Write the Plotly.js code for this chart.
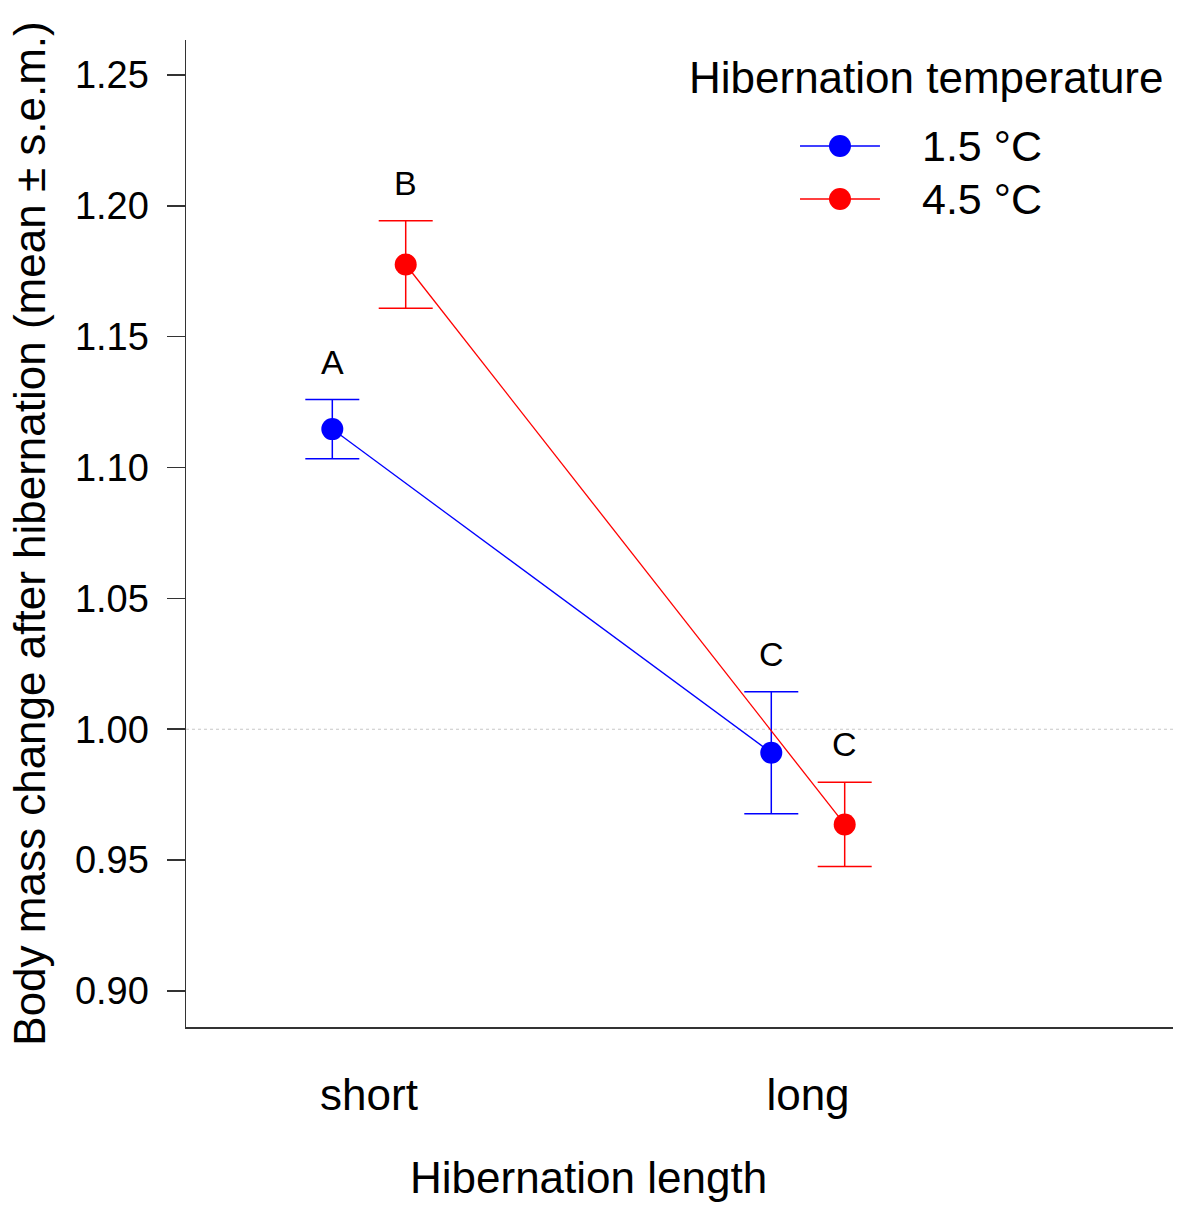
<!DOCTYPE html>
<html><head><meta charset="utf-8">
<script src="https://cdn.plot.ly/plotly-3.0.1.min.js"></script>
<style>html,body{margin:0;padding:0;background:#fff}</style>
</head><body><div id="chart" style="width:1178px;height:1205px"></div>
<script>
// ---- data ----
const lengths = ["short", "long"];
const temperatures = ["1.5 °C", "4.5 °C"];
const meanCold = [1.1147, 0.9910];
const semCold = [0.0113, 0.0233];
const meanWarm = [1.1776, 0.9636];
const semWarm = [0.0167, 0.0161];
const lettersCold = ["A", "C"];
const lettersWarm = ["B", "C"];
const yTicks = [0.90, 0.95, 1.00, 1.05, 1.10, 1.15, 1.20, 1.25];

// ---- style ----
const FONT = "Liberation Sans, Arial, sans-serif";
const colors = ["#0000FF", "#FF0000"];
const dodge = 0.0836;
const catPos = lengths.map((_, i) => i + 1);

const groups = [
  {name: temperatures[0], mean: meanCold, sem: semCold, letters: lettersCold, shift: -dodge, color: colors[0]},
  {name: temperatures[1], mean: meanWarm, sem: semWarm, letters: lettersWarm, shift: dodge, color: colors[1]}
];

const traces = groups.map(g => ({
  type: "scatter",
  mode: "lines+markers",
  name: g.name,
  showlegend: false,
  x: catPos.map(p => p + g.shift),
  y: g.mean,
  line: {color: g.color, width: 1.3},
  marker: {color: g.color, size: 22},
  error_y: {type: "data", array: g.sem, visible: true, color: g.color, thickness: 1.5, width: 27},
  hoverinfo: "x+y"
}));

const annotations = [];
groups.forEach(g => {
  g.letters.forEach((L, i) => {
    annotations.push({
      x: catPos[i] + g.shift, y: g.mean[i] + g.sem[i], xref: "x", yref: "y",
      text: L, showarrow: false, yshift: 38, yanchor: "middle",
      font: {family: FONT, size: 34, color: "#000"}
    });
  });
});

// x-axis title (centred on the figure, as in the reference)
annotations.push({
  x: 0.4083, y: -0.1793, xref: "paper", yref: "paper", xanchor: "center", yanchor: "bottom",
  text: "Hibernation length", showarrow: false,
  font: {family: FONT, size: 44, color: "#000"}
});

// ---- legend (key drawn in layout space) ----
const legendTitle = "Hibernation temperature";
const legX0 = 0.6221, legX1 = 0.7031, legXm = 0.6626, legXt = 0.7440;
const legY = [0.8926, 0.8389];
annotations.push({
  x: 0.7497, y: 0.9615, xref: "paper", yref: "paper", xanchor: "center", yanchor: "middle",
  text: legendTitle, showarrow: false,
  font: {family: FONT, size: 44, color: "#000"}
});
const shapes = [{
  type: "line", xref: "paper", yref: "y", x0: 0, x1: 1, y0: 1, y1: 1,
  line: {color: "#c8c8c8", width: 1.2, dash: "dot"}, layer: "below"
}];
groups.forEach((g, k) => {
  shapes.push({
    type: "line", xref: "paper", yref: "paper", x0: legX0, x1: legX1, y0: legY[k], y1: legY[k],
    line: {color: g.color, width: 1.3}
  });
  shapes.push({
    type: "circle", xref: "paper", yref: "paper", xsizemode: "pixel", ysizemode: "pixel",
    xanchor: legXm, yanchor: legY[k], x0: -11, x1: 11, y0: -11, y1: 11,
    fillcolor: g.color, line: {width: 0}
  });
  annotations.push({
    x: legXt, y: legY[k], xref: "paper", yref: "paper", xanchor: "left", yanchor: "middle",
    text: g.name, showarrow: false,
    font: {family: FONT, size: 43, color: "#000"}
  });
});

const layout = {
  width: 1178, height: 1205,
  margin: {l: 186, r: 5, t: 40, b: 178},
  paper_bgcolor: "#fff", plot_bgcolor: "#fff",
  font: {family: FONT, color: "#000"},
  showlegend: false,
  xaxis: {
    range: [0.5831, 2.8315],
    tickvals: catPos, ticktext: lengths,
    ticks: "", showgrid: false, zeroline: false,
    showline: true, linecolor: "#333", linewidth: 1.5,
    tickfont: {family: FONT, size: 44, color: "#000"},
    ticklabelstandoff: 29
  },
  yaxis: {
    range: [0.8862, 1.2634],
    tickvals: yTicks, ticktext: yTicks.map(v => v.toFixed(2)),
    ticks: "outside", ticklen: 18, tickwidth: 1.5, tickcolor: "#333",
    showgrid: false, zeroline: false,
    showline: true, linecolor: "#333", linewidth: 1.5,
    tickfont: {family: FONT, size: 38, color: "#000"},
    ticklabelstandoff: 10,
    automargin: true,
    title: {text: "Body mass change after hibernation (mean ± s.e.m.)", standoff: 15,
            font: {family: FONT, size: 44, color: "#000"}}
  },
  shapes: shapes,
  annotations: annotations
};

Plotly.newPlot("chart", traces, layout, {displayModeBar: false, staticPlot: true});
</script>
</body></html>
